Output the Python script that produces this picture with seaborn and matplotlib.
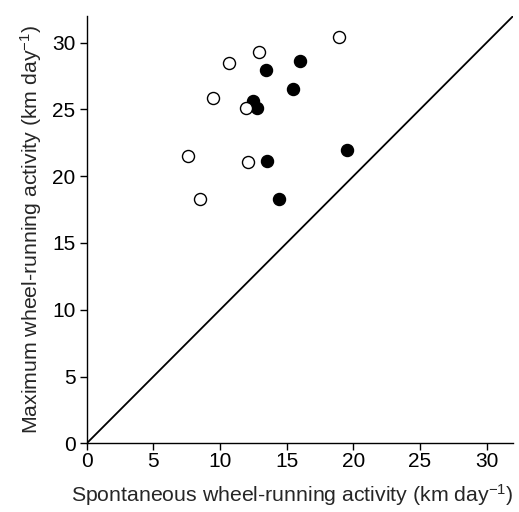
import matplotlib
matplotlib.use("Agg")
import matplotlib.pyplot as plt
import seaborn as sns
import pandas as pd

# Open circles group
open_x = [18.95, 12.95, 10.65, 9.45, 11.93, 7.58, 12.08, 8.48]
open_y = [30.45, 29.33, 28.48, 25.83, 25.13, 21.53, 21.03, 18.33]
# Filled circles group
filled_x = [15.98, 13.47, 15.48, 12.45, 12.78, 13.55, 19.55, 14.43]
filled_y = [28.63, 27.93, 26.53, 25.60, 25.13, 21.13, 21.93, 18.33]

ticks = [0, 5, 10, 15, 20, 25, 30]
xlabel = r"Spontaneous wheel-running activity (km day$\mathregular{^{-1}}$)"
ylabel = r"Maximum wheel-running activity (km day$\mathregular{^{-1}}$)"

sns.set_style("ticks")
plt.rcParams["font.family"] = ["Liberation Sans", "DejaVu Sans"]
plt.rcParams["mathtext.fontset"] = "custom"
plt.rcParams["mathtext.rm"] = "Liberation Sans"

df = pd.DataFrame({
    "x": filled_x + open_x,
    "y": filled_y + open_y,
    "group": ["filled"] * len(filled_x) + ["open"] * len(open_x),
})

fig = plt.figure(figsize=(5.19, 5.12), dpi=100)
ax = fig.add_axes([0.167, 0.134, 0.822, 0.835])

ax.plot([0, 32], [0, 32], color="black", lw=1.3, zorder=1)

sns.scatterplot(data=df[df.group == "filled"], x="x", y="y", ax=ax,
                color="black", edgecolor="black", s=75, linewidth=1.0,
                legend=False, zorder=3)
sns.scatterplot(data=df[df.group == "open"], x="x", y="y", ax=ax,
                color="white", edgecolor="black", s=75, linewidth=1.0,
                legend=False, zorder=4)

ax.set_xlim(0, 32)
ax.set_ylim(0, 32)
ax.set_xticks(ticks)
ax.set_yticks(ticks)
ax.tick_params(labelsize=15, length=5, width=1, color="black", labelcolor="black")
ax.tick_params(axis="x", pad=1.5)
ax.tick_params(axis="y", pad=3)
ax.set_xlabel(xlabel, fontsize=15.3, labelpad=8)
ax.set_ylabel(ylabel, fontsize=15.3, labelpad=6)
ax.xaxis.label.set_x(0.482)
for s in ["left", "bottom"]:
    ax.spines[s].set_linewidth(1.0)
    ax.spines[s].set_color("black")
sns.despine(ax=ax)

fig.savefig("out.png", dpi=100)
